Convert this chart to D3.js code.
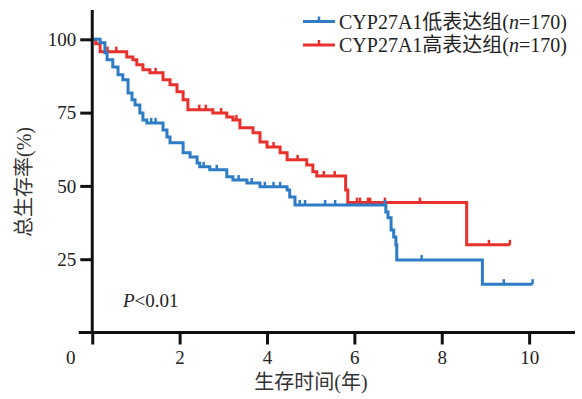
<html>
<head>
<meta charset="UTF-8">
<script src="https://d3js.org/d3.v7.min.js"></script>
<style>
  body { margin: 0; background: #fff; }
  svg { font-family: "Liberation Serif", "Noto Sans CJK SC", serif; }
</style>
</head>
<body>
<svg width="582" height="399"></svg>
<script>
// low expression group (blue): step times and survival after each step
const lowTimes = [0, 0.18, 0.29, 0.34, 0.47, 0.59, 0.70, 0.82, 0.91, 0.98, 1.09, 1.16, 1.25, 1.62, 1.71, 1.78,
  2.08, 2.24, 2.40, 2.46, 2.69, 3.08, 3.22, 3.54, 3.84, 4.46, 4.52, 4.64, 6.72, 6.77, 6.84, 6.90, 6.95, 6.97, 8.93];
const lowSurv = [100, 98.8, 95.4, 93.0, 90.6, 87.9, 86.2, 81.7, 79.4, 77.6, 74.9, 72.5, 71.5, 69.1, 66.7, 64.7,
  61.3, 59.9, 57.8, 56.5, 55.5, 53.1, 52.0, 51.0, 49.7, 48.6, 46.2, 43.5, 41.1, 39.1, 35.0, 32.6, 29.9, 24.7, 16.5];
const lowEnd = 10.08;
const lowCensor = [1.35, 1.45, 2.55, 2.85, 3.35, 3.65, 3.95, 4.15, 4.3, 4.75, 4.87, 5.33, 5.56, 6.7, 7.54, 9.42, 10.08];

// high expression group (red)
const highTimes = [0, 0.08, 0.18, 0.79, 0.93, 1.02, 1.16, 1.32, 1.62, 1.78, 1.94, 2.08, 2.19, 2.76, 3.08, 3.22,
  3.38, 3.68, 3.84, 4.00, 4.30, 4.46, 4.91, 5.05, 5.14, 5.80, 5.85, 8.57];
const highSurv = [100, 98.5, 95.8, 94.0, 93.0, 91.3, 89.6, 88.6, 86.2, 84.5, 82.1, 79.4, 76.0, 74.9, 73.5, 72.5,
  69.8, 68.1, 65.0, 63.3, 61.3, 58.9, 57.1, 54.8, 53.4, 48.6, 44.3, 29.9];
const highEnd = 9.56;
const highCensor = [0.35, 0.55, 1.45, 2.45, 2.6, 2.95, 3.3, 4.15, 4.7, 5.3, 5.55, 6.06, 6.13, 6.31, 6.36, 6.7, 7.5, 9.08, 9.56];

const xTicks = [0, 2, 4, 6, 8, 10];
const yTicks = [25, 50, 75, 100];

const groups = [
  { name: "低表达组", times: lowTimes, surv: lowSurv, end: lowEnd, censor: lowCensor, color: "#2f7cc6" },
  { name: "高表达组", times: highTimes, surv: highSurv, end: highEnd, censor: highCensor, color: "#e8302c" }
];

const svg = d3.select("svg");
const x = d3.scaleLinear().domain([-0.31, 11.05]).range([78.7, 575]);
const y = d3.scaleLinear().domain([0, 110]).range([332.5, 10]);

function survAt(g, t) {
  let s = g.surv[0];
  for (let i = 0; i < g.times.length; i++) if (g.times[i] <= t) s = g.surv[i];
  return s;
}

const line = d3.line().x((d) => x(d[0])).y((d) => y(d[1])).curve(d3.curveStepAfter);

// draw red first so blue sits on top
[groups[1], groups[0]].forEach((g) => {
  const pts = g.times.map((t, i) => [t, g.surv[i]]);
  pts.push([g.end, g.surv[g.surv.length - 1]]);
  svg.append("path")
    .attr("d", line(pts))
    .attr("fill", "none")
    .attr("stroke", g.color)
    .attr("stroke-width", 3);
  svg.append("g")
    .selectAll("line")
    .data(g.censor)
    .join("line")
      .attr("x1", (d) => x(d)).attr("x2", (d) => x(d))
      .attr("y1", (d) => y(survAt(g, d)))
      .attr("y2", (d) => y(survAt(g, d)) - 5)
      .attr("stroke", g.color)
      .attr("stroke-width", 2.5);
});

// axes
const yAxis = svg.append("g")
  .attr("transform", `translate(${x(0)},0)`)
  .call(d3.axisLeft(y).tickValues(yTicks).tickSize(12).tickPadding(4));
yAxis.select(".domain").remove();

const xAxis = svg.append("g")
  .attr("transform", `translate(0,${y(0)})`)
  .call(d3.axisBottom(x).tickValues(xTicks).tickSize(12).tickPadding(6));
xAxis.select(".domain").remove();
xAxis.selectAll(".tick text").filter((d) => d === 0).attr("x", -22);

svg.selectAll(".tick line").attr("stroke", "#111").attr("stroke-width", 3);
svg.selectAll(".tick text").attr("font-size", 19).attr("fill", "#222")
  .attr("font-family", "Liberation Serif");

svg.append("line")
  .attr("x1", x(0)).attr("x2", x(0)).attr("y1", y(110)).attr("y2", y(0) + 1.5)
  .attr("stroke", "#111").attr("stroke-width", 3);
svg.append("line")
  .attr("x1", x.range()[0]).attr("x2", x.range()[1]).attr("y1", y(0)).attr("y2", y(0))
  .attr("stroke", "#111").attr("stroke-width", 3);

// axis titles
svg.append("text")
  .attr("transform", "translate(31,182) rotate(-90)")
  .attr("text-anchor", "middle")
  .attr("font-size", 20)
  .attr("fill", "#333")
  .text("总生存率(%)");

svg.append("text")
  .attr("x", 311).attr("y", 389)
  .attr("text-anchor", "middle")
  .attr("font-size", 20)
  .attr("fill", "#333")
  .text("生存时间(年)");

// p value
const pText = svg.append("text")
  .attr("x", 123).attr("y", 307)
  .attr("font-size", 19)
  .attr("fill", "#222");
pText.append("tspan").attr("font-style", "italic").text("P");
pText.append("tspan").text("<0.01");

// legend
const legend = svg.append("g");
groups.forEach((g, i) => {
  const ly = 21.5 + i * 23.5;
  legend.append("line")
    .attr("x1", 303).attr("x2", 335).attr("y1", ly).attr("y2", ly)
    .attr("stroke", g.color).attr("stroke-width", 3);
  legend.append("line")
    .attr("x1", 319).attr("x2", 319).attr("y1", ly).attr("y2", ly - 5)
    .attr("stroke", g.color).attr("stroke-width", 2.5);
  const t = legend.append("text")
    .attr("x", 339).attr("y", ly + 7)
    .attr("font-size", 20)
    .attr("fill", "#222");
  t.append("tspan").text("CYP27A1" + g.name + "(");
  t.append("tspan").attr("font-style", "italic").text("n");
  t.append("tspan").text("=170)");
});
</script>
</body>
</html>
